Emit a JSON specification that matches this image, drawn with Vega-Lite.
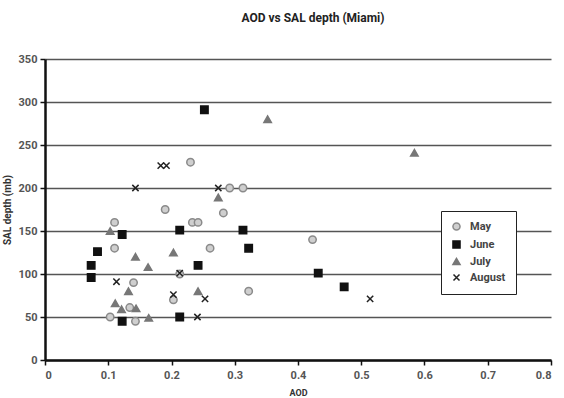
{
  "$schema": "https://vega.github.io/schema/vega-lite/v6.json",
  "width": 506,
  "height": 301,
  "autosize": "none",
  "padding": {"left": 45, "top": 59, "right": 13, "bottom": 38},
  "background": "white",
  "title": {
    "text": "AOD vs SAL depth (Miami)",
    "font": "Liberation Sans Narrow, Roboto, sans-serif",
    "fontSize": 12,
    "fontWeight": "bold",
    "color": "#222",
    "anchor": "middle",
    "offset": 28,
    "dx": 15
  },
  "data": {
    "values": [
      {"month": "May", "aod": 0.23, "sal": 230},
      {"month": "May", "aod": 0.19, "sal": 175},
      {"month": "May", "aod": 0.11, "sal": 160},
      {"month": "May", "aod": 0.233, "sal": 160},
      {"month": "May", "aod": 0.242, "sal": 160},
      {"month": "May", "aod": 0.11, "sal": 130},
      {"month": "May", "aod": 0.213, "sal": 100},
      {"month": "May", "aod": 0.14, "sal": 90},
      {"month": "May", "aod": 0.203, "sal": 70},
      {"month": "May", "aod": 0.134, "sal": 61},
      {"month": "May", "aod": 0.103, "sal": 50},
      {"month": "May", "aod": 0.143, "sal": 45},
      {"month": "May", "aod": 0.292, "sal": 200},
      {"month": "May", "aod": 0.313, "sal": 200},
      {"month": "May", "aod": 0.282, "sal": 171},
      {"month": "May", "aod": 0.423, "sal": 140},
      {"month": "May", "aod": 0.261, "sal": 130},
      {"month": "May", "aod": 0.322, "sal": 80},
      {"month": "June", "aod": 0.122, "sal": 146},
      {"month": "June", "aod": 0.213, "sal": 151},
      {"month": "June", "aod": 0.083, "sal": 126},
      {"month": "June", "aod": 0.073, "sal": 110},
      {"month": "June", "aod": 0.242, "sal": 110},
      {"month": "June", "aod": 0.073, "sal": 96},
      {"month": "June", "aod": 0.122, "sal": 45},
      {"month": "June", "aod": 0.213, "sal": 50},
      {"month": "June", "aod": 0.252, "sal": 291},
      {"month": "June", "aod": 0.313, "sal": 151},
      {"month": "June", "aod": 0.322, "sal": 130},
      {"month": "June", "aod": 0.432, "sal": 101},
      {"month": "June", "aod": 0.473, "sal": 85},
      {"month": "July", "aod": 0.103, "sal": 150},
      {"month": "July", "aod": 0.143, "sal": 120},
      {"month": "July", "aod": 0.203, "sal": 125},
      {"month": "July", "aod": 0.163, "sal": 108},
      {"month": "July", "aod": 0.132, "sal": 80},
      {"month": "July", "aod": 0.242, "sal": 80},
      {"month": "July", "aod": 0.111, "sal": 66},
      {"month": "July", "aod": 0.121, "sal": 59},
      {"month": "July", "aod": 0.144, "sal": 60},
      {"month": "July", "aod": 0.164, "sal": 49},
      {"month": "July", "aod": 0.352, "sal": 280},
      {"month": "July", "aod": 0.274, "sal": 189},
      {"month": "July", "aod": 0.584, "sal": 241},
      {"month": "August", "aod": 0.183, "sal": 226},
      {"month": "August", "aod": 0.192, "sal": 226},
      {"month": "August", "aod": 0.143, "sal": 200},
      {"month": "August", "aod": 0.213, "sal": 101},
      {"month": "August", "aod": 0.113, "sal": 91},
      {"month": "August", "aod": 0.203, "sal": 76},
      {"month": "August", "aod": 0.241, "sal": 50},
      {"month": "August", "aod": 0.274, "sal": 200},
      {"month": "August", "aod": 0.253, "sal": 71},
      {"month": "August", "aod": 0.514, "sal": 71}
    ]
  },
  "mark": {"type": "point", "filled": true, "opacity": 1, "size": 55, "strokeWidth": 1.5},
  "encoding": {
    "x": {
      "field": "aod",
      "type": "quantitative",
      "scale": {"domain": [0, 0.8], "nice": false, "zero": true},
      "axis": {
        "title": "AOD",
        "values": [0, 0.1, 0.2, 0.3, 0.4, 0.5, 0.6, 0.7, 0.8],
        "format": "~g",
        "grid": false,
        "domainColor": "#111",
        "domainWidth": 2.5,
        "tickColor": "#111",
        "tickWidth": 1.5,
        "tickSize": 5,
        "labelFont": "Liberation Sans Narrow, Roboto, sans-serif",
        "labelFontSize": 11,
        "labelFontWeight": "bold",
        "labelColor": "#555",
        "labelPadding": 4,
        "titleFont": "Liberation Sans Narrow, Roboto, sans-serif",
        "titleFontSize": 9,
        "titleFontWeight": "bold",
        "titleColor": "#333",
        "titlePadding": 8
      }
    },
    "y": {
      "field": "sal",
      "type": "quantitative",
      "scale": {"domain": [0, 350], "nice": false},
      "axis": {
        "title": "SAL depth (mb)",
        "values": [0, 50, 100, 150, 200, 250, 300, 350],
        "grid": true,
        "gridColor": "#555",
        "gridWidth": 1.5,
        "gridOpacity": 1,
        "domainColor": "#111",
        "domainWidth": 2.5,
        "tickColor": "#111",
        "tickWidth": 1.5,
        "tickSize": 5,
        "labelFont": "Liberation Sans Narrow, Roboto, sans-serif",
        "labelFontSize": 11,
        "labelFontWeight": "bold",
        "labelColor": "#555",
        "labelPadding": 3,
        "titleFont": "Liberation Sans Narrow, Roboto, sans-serif",
        "titleFontSize": 10,
        "titleFontWeight": "bold",
        "titleColor": "#333",
        "titlePadding": 6
      }
    },
    "shape": {
      "field": "month",
      "type": "nominal",
      "scale": {
        "domain": ["May", "June", "July", "August"],
        "range": ["circle", "square", "triangle-up", "M-0.85,-0.85L0.85,0.85M-0.85,0.85L0.85,-0.85"]
      },
      "legend": {
        "title": null,
        "orient": "none",
        "legendX": 396,
        "legendY": 152,
        "padding": 10,
        "strokeColor": "#222",
        "fillColor": "white",
        "rowPadding": 3,
        "symbolSize": 50,
        "symbolStrokeWidth": 1.5,
        "labelFont": "Liberation Sans Narrow, Roboto, sans-serif",
        "labelFontSize": 11,
        "labelFontWeight": "bold",
        "labelColor": "#444",
        "labelOffset": 8
      }
    },
    "fill": {
      "field": "month",
      "type": "nominal",
      "scale": {"domain": ["May", "June", "July", "August"], "range": ["#cfcfcf", "#111111", "#777777", "#222222"]},
      "legend": null
    },
    "stroke": {
      "field": "month",
      "type": "nominal",
      "scale": {"domain": ["May", "June", "July", "August"], "range": ["#8a8a8a", "#111111", "#777777", "#222222"]},
      "legend": null
    }
  },
  "config": {
    "view": {"stroke": null}
  }
}
